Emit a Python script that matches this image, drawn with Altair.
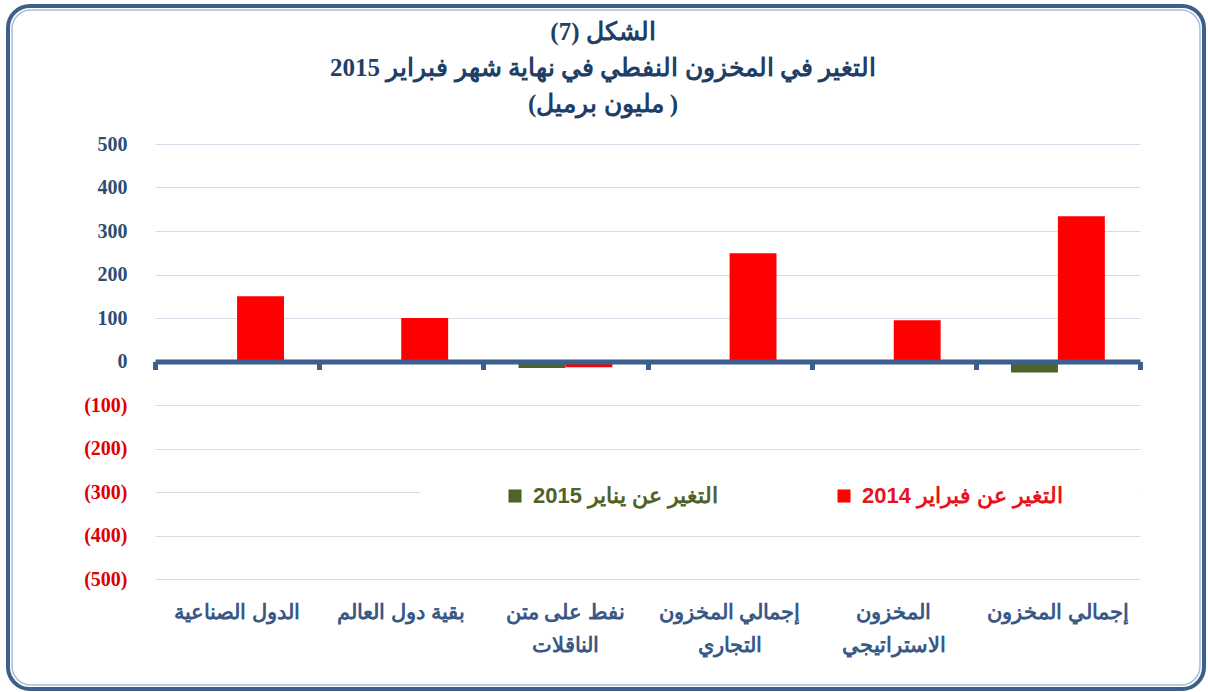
import altair as alt
import pandas as pd

categories = ["الدول الصناعية", "بقية دول العالم", "نفط على متن|الناقلات",
              "إجمالي المخزون|التجاري", "المخزون|الاستراتيجي", "إجمالي المخزون"]
series_names = ["التغير عن يناير 2015", "التغير عن فبراير 2014"]
jan2015 = [0, 0, -15, 0, 0, -25]
feb2014 = [150, 100, -13, 249, 95, 334]
y_ticks = [-500, -400, -300, -200, -100, 0, 100, 200, 300, 400, 500]
title_lines = ["الشكل (7)", "التغير في المخزون النفطي في نهاية شهر فبراير 2015", "(مليون برميل )"]

rows = []
for c, a, b in zip(categories, jan2015, feb2014):
    rows.append({"cat": c, "series": series_names[0], "value": a})
    rows.append({"cat": c, "series": series_names[1], "value": b})
df = pd.DataFrame(rows)

W, H = 985, 435
PL, PT = 155, 144

xscale = alt.Scale(paddingInner=0, paddingOuter=0)
yscale = alt.Scale(domain=[-500, 500], nice=False)

bars = alt.Chart(df).mark_bar().encode(
    x=alt.X("cat:N", sort=categories, scale=xscale, title=None,
            axis=alt.Axis(labelAngle=0, domain=False, ticks=False, grid=False,
                          labelExpr="split(datum.label, '|')",
                          labelFont="Liberation Sans", labelFontWeight="bold",
                          labelFontSize=21, labelColor="#3A5886",
                          labelPadding=22, labelLineHeight=33, labelLimit=300)),
    xOffset=alt.XOffset("series:N", sort=series_names,
                        scale=alt.Scale(paddingInner=0, paddingOuter=0.75)),
    y=alt.Y("value:Q", scale=yscale, title=None,
            axis=alt.Axis(values=y_ticks, domain=False, ticks=False,
                          grid=True, gridColor="#D8DBE8", gridWidth=1,
                          labelExpr="datum.value < 0 ? '(' + format(-datum.value, 'd') + ')' : format(datum.value, 'd')",
                          labelColor={"condition": {"test": "datum.value < 0", "value": "#E00000"},
                                      "value": "#2E4C73"},
                          labelFont="Liberation Serif", labelFontWeight="bold",
                          labelFontSize=20, labelPadding=28)),
    color=alt.Color("series:N", sort=series_names,
                    scale=alt.Scale(domain=series_names, range=["#4F6228", "#FF0000"]),
                    legend=alt.Legend(orient="none", legendX=349, legendY=341,
                                      direction="horizontal", title=None,
                                      symbolType="square", symbolSize=170,
                                      symbolStrokeWidth=0,
                                      labelFont="Liberation Sans", labelFontWeight="bold",
                                      labelFontSize=22,
                                      labelColor={"expr": "indexof(datum.label, '2015') >= 0 ? '#4F6228' : '#E8141C'"},
                                      columnPadding=114, labelOffset=7, labelLimit=400)),
)

zero_axis = alt.Chart(df).mark_bar(opacity=0).encode(
    x=alt.X("cat:N", sort=categories, scale=xscale, title=None,
            axis=alt.Axis(orient="bottom", offset=-H / 2, labels=False, grid=False,
                          domain=True, domainColor="#3B5F8E", domainWidth=5,
                          ticks=True, tickBand="extent", tickColor="#3B5F8E",
                          tickWidth=5, tickSize=8, zindex=2)),
    y=alt.Y("value:Q", scale=yscale),
)

one = pd.DataFrame({"k": [0]})
mask = alt.Chart(one).mark_rect(color="white").encode(
    x=alt.value(265), x2=alt.value(W), y=alt.value(330), y2=alt.value(372))

title = alt.Chart(one).mark_text(
    font="Liberation Serif", fontWeight="bold", fontSize=25, color="#1F3F66",
    lineHeight=36, align="center", baseline="alphabetic"
).encode(x=alt.value(603 - PL), y=alt.value(40 - PT), text=alt.value(title_lines))

frame_outer = alt.Chart(one).mark_rect(filled=False, stroke="#3E5F8A", strokeWidth=4,
                                       cornerRadius=22).encode(
    x=alt.value(8 - PL), x2=alt.value(1204 - PL), y=alt.value(6 - PT), y2=alt.value(689 - PT))
frame_inner = alt.Chart(one).mark_rect(filled=False, stroke="#A9BCD6", strokeWidth=1.5,
                                       cornerRadius=19).encode(
    x=alt.value(12 - PL), x2=alt.value(1200 - PL), y=alt.value(10 - PT), y2=alt.value(685 - PT))

chart = alt.layer(mask, bars, zero_axis, title, frame_outer, frame_inner).resolve_axis(
    x="independent"
).properties(
    width=W, height=H,
    autosize=alt.AutoSizeParams(type="none"),
    padding={"left": PL, "top": PT, "right": 1208 - PL - W, "bottom": 692 - PT - H},
    background="white",
).configure_view(stroke=None)

chart.save("out.html", embed_options={"renderer": "svg", "actions": False})
